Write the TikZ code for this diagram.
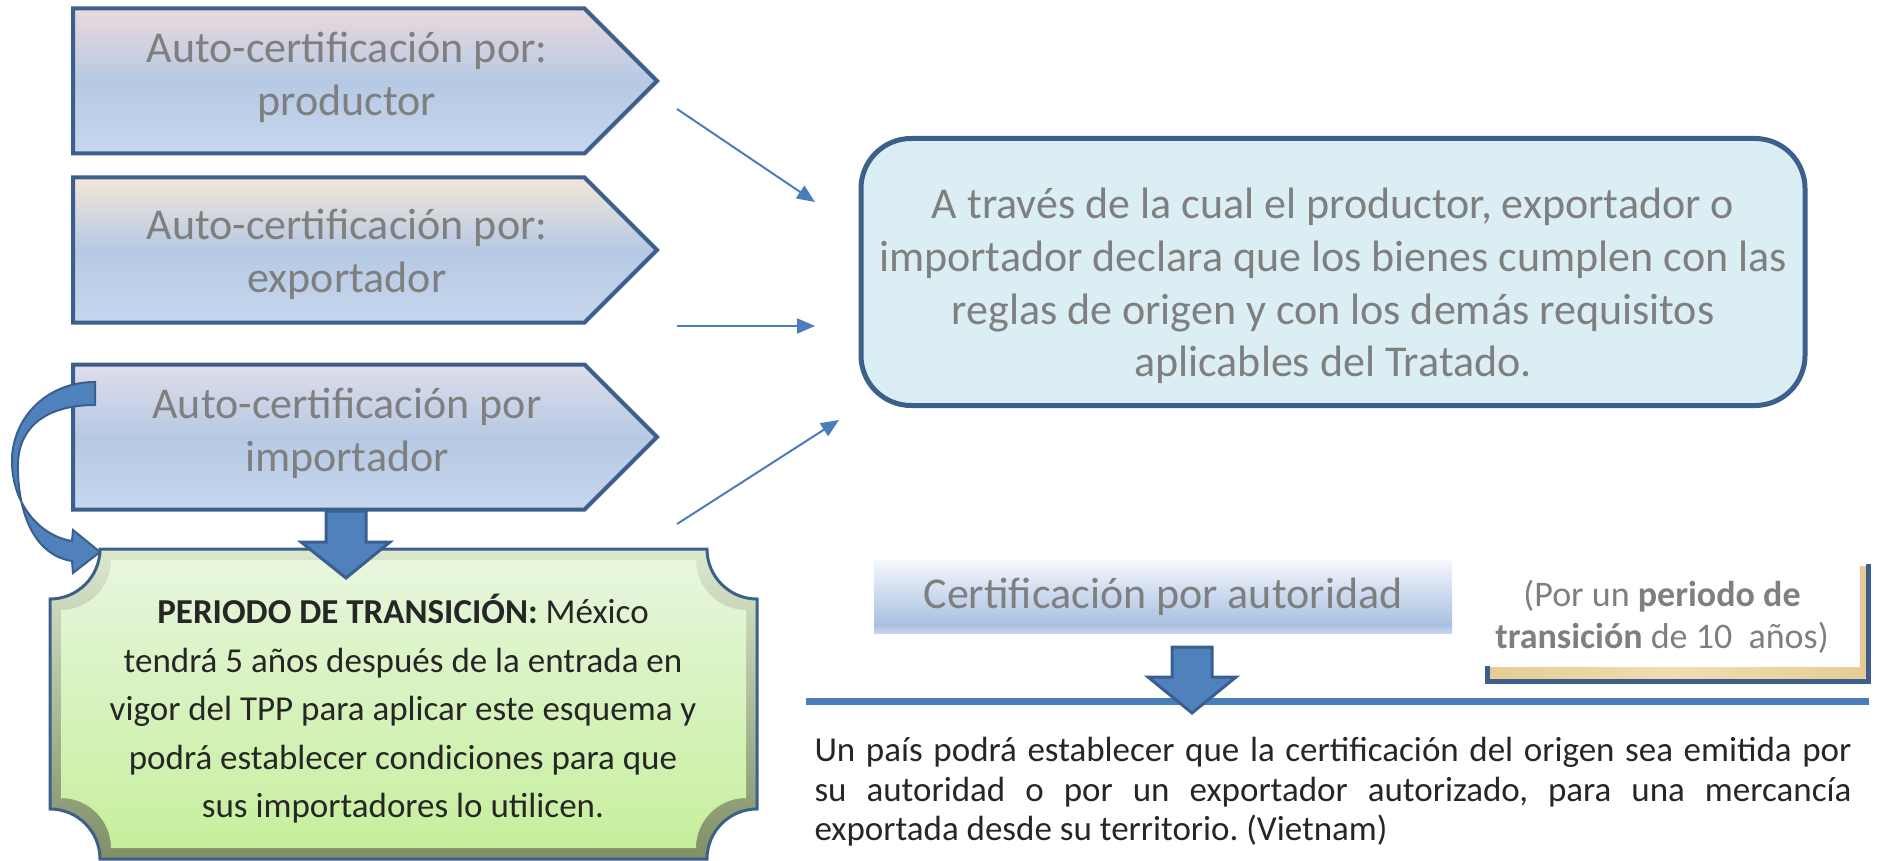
\documentclass[tikz,border=0pt]{standalone}
\usepackage{fontspec}
\setmainfont{Carlito}
\usetikzlibrary{shapes.symbols,arrows.meta}

\definecolor{boxblue}{HTML}{3C5F8C}
\definecolor{linkblue}{HTML}{4A7EBB}
\definecolor{blockfill}{HTML}{4F81BD}
\definecolor{blockedge}{HTML}{3A5F8F}
\definecolor{txtgray}{HTML}{7F7F7F}
\definecolor{txtdark}{HTML}{262626}
\definecolor{declfill}{HTML}{DBEEF4}
\definecolor{pentA}{HTML}{EAD9DD}
\definecolor{pentB}{HTML}{F3E6D8}
\definecolor{pentC}{HTML}{DFDDEA}
\definecolor{pentmid}{HTML}{B6C9E4}
\definecolor{pentbot}{HTML}{C6D7EE}
\definecolor{greentop}{HTML}{E8F6DE}
\definecolor{greenbot}{HTML}{C6EF9C}
\definecolor{beveltop}{HTML}{DCE8CE}
\definecolor{bevelbot}{HTML}{7F8F66}
\definecolor{authtop}{HTML}{F4F7FC}
\definecolor{authmid}{HTML}{A9C0E1}
\definecolor{authbot}{HTML}{C8D7EE}
\definecolor{tanA}{HTML}{E6CC94}
\definecolor{tanB}{HTML}{F2DDB0}

\pgfdeclareverticalshading{authshade}{100bp}{color(0bp)=(authbot); color(25bp)=(authbot); color(31bp)=(authmid); color(75bp)=(authtop); color(100bp)=(authtop)}

% concave-cornered plaque: x1, y1, x2, y2, radius
\newcommand{\plaque}[5]{(#1+#5,#2) -- (#3-#5,#2) arc[start angle=180,end angle=90,radius=#5]
  -- (#3,#4-#5) arc[start angle=270,end angle=180,radius=#5]
  -- (#1+#5,#4) arc[start angle=0,end angle=-90,radius=#5]
  -- (#1,#2+#5) arc[start angle=90,end angle=0,radius=#5] -- cycle}

\begin{document}
\begin{tikzpicture}[x=1pt, y=-1pt,
    pentbox/.style = {signal, signal to=east, signal pointer angle=90, draw=boxblue, line width=4pt,
        minimum width=584pt, minimum height=145pt, inner sep=0pt, anchor=west,
        top color=#1, bottom color=pentbot, middle color=pentmid},
    penttext/.style = {align=center, text=txtgray, font=\fontsize{44}{53}\selectfont},
    thinarrow/.style = {draw=linkblue, line width=2pt, -{Triangle[length=18pt,width=15pt]}},
    blockarrow/.style = {fill=blockfill, draw=blockedge, line width=3pt, line join=miter}
    ]
    \useasboundingbox (0,0) rectangle (1879,861);

    % transition plaque
    \shade[top color=beveltop, bottom color=bevelbot] \plaque{50}{549}{757}{859}{50};
    \shade[top color=greentop, bottom color=greenbot] \plaque{61}{560}{746}{848}{50};
    \draw[boxblue, line width=3pt] \plaque{50}{549}{757}{859}{50};
    \node (trans) at (403,709) [align=center, text=txtdark, font=\fontsize{35}{48.5}\selectfont]
        {\textbf{PERIODO DE TRANSICIÓN:} México\\tendrá 5 años después de la entrada en\\vigor del TPP para aplicar este esquema y\\podrá establecer condiciones para que\\sus importadores lo utilicen.};

    % auto-certification arrows
    \node (prod) at (71,81)  [pentbox=pentA] {};
    \node (expo) at (71,250) [pentbox=pentB] {};
    \node (impo) at (71,437) [pentbox=pentC] {};
    \node (prodtext) at (347,77)  [penttext] {Auto-certificación por:\\productor};
    \node (expotext) at (347,254) [penttext] {Auto-certificación por:\\exportador};
    \node (impotext) at (347,433) [penttext] {Auto-certificación por\\importador};

    \draw[blockarrow] (326,511) -- (366,511) -- (366,542) -- (390,542) -- (346,578) -- (301,542) -- (326,542) -- cycle;
    \draw[blockarrow, line width=2pt] (95,382) .. controls (45,382) and (11,420) .. (12,463)
        .. controls (13,505) and (40,536) .. (72,541) -- (73,530) -- (100,552) -- (73,573) -- (72,561)
        .. controls (33,555) and (17,510) .. (18,463) .. controls (19,428) and (45,405) .. (95,405) -- cycle;

    % declaration box
    \node (decl) at (1333,272) [rectangle, rounded corners=50pt, minimum width=944pt, minimum height=267pt,
        fill=declfill, draw=boxblue, line width=5pt] {};
    \node (decltext) at (1333,286) [align=center, text=txtgray, font=\fontsize{44}{52.7}\selectfont]
        {A través de la cual el productor, exportador o\\importador declara que los bienes cumplen con las\\reglas de origen y con los demás requisitos\\aplicables del Tratado.};

    \coordinate (p1) at (677,109);  \coordinate (d1) at (815,202);
    \coordinate (p2) at (677,326);  \coordinate (d2) at (815,326);
    \coordinate (p3) at (677,524);  \coordinate (d3) at (839,420);
    \draw[thinarrow] (p1) -- (d1);
    \draw[thinarrow] (p2) -- (d2);
    \draw[thinarrow] (p3) -- (d3);

    % certification by authority
    \node (auth) at (1163,597) [rectangle, minimum width=578pt, minimum height=73pt, shading=authshade,
        text=txtgray, font=\fontsize{44}{50}\selectfont] {Certificación por autoridad};

    \shade[left color=tanA, right color=tanA, middle color=tanB] (1489,667) rectangle (1865,678);
    \fill[tanA] (1860,566) rectangle (1866,678);
    \draw[boxblue, line width=5pt] (1487,666) -- (1487,681) -- (1868,681) -- (1868,564);
    \node (years) at (1662,617) [align=center, text=txtgray, font=\fontsize{36}{42}\selectfont]
        {(Por un \textbf{periodo de}\\\textbf{transición} de 10~ años)};

    \draw[linkblue, line width=7pt] (806,701) -- (1869,701);
    \draw[blockarrow] (1172,647) -- (1212,647) -- (1212,677) -- (1236,677) -- (1192,713) -- (1148,677) -- (1172,677) -- cycle;

    \node (viet) at (1333,792) [text width=1037pt, align=justify, text=txtdark, inner sep=0pt,
        font=\fontsize{35}{39.5}\selectfont\frenchspacing]
        {Un país podrá establecer que la certificación del origen sea emitida por\linebreak
         su autoridad o por un exportador autorizado, para una mercancía\linebreak
         exportada desde su territorio. (Vietnam)};
\end{tikzpicture}
\end{document}
